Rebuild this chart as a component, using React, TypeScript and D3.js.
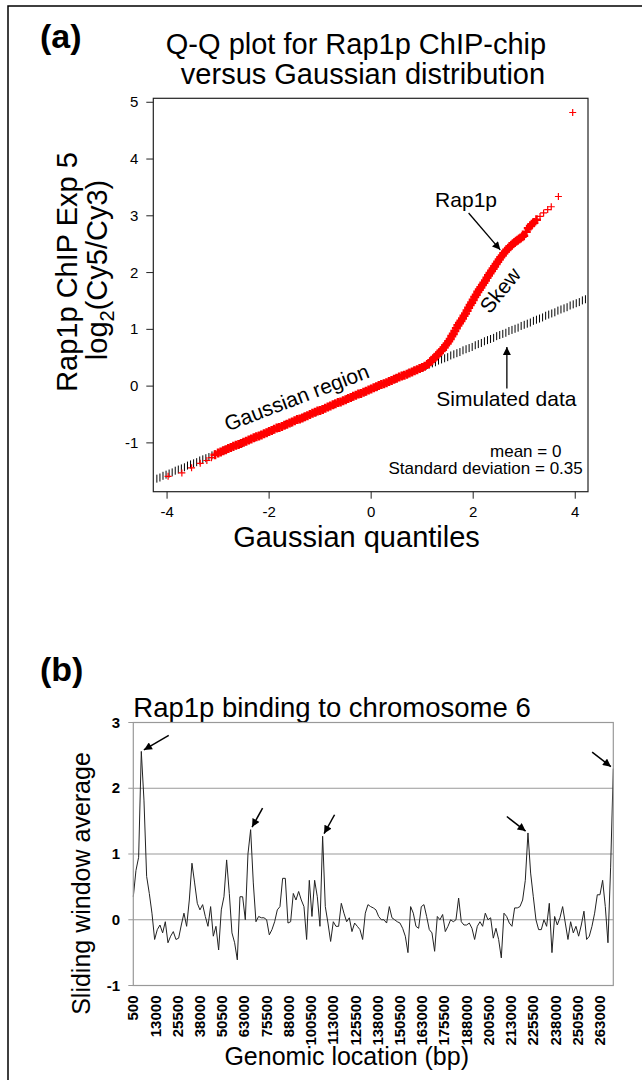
import React, { useRef, useEffect } from 'react';
import * as d3 from 'd3';

// ---------- Panel (a): Q-Q plot ----------
// Gaussian quantiles (x) and Rap1p log2 ratios (y) read off the red "+" points
const rap1pX = [
  -3.98, -3.71, -3.52, -3.35, -3.22, -3.13, -3.06,
  -3.00, -2.95, -2.90, -2.85, -2.80, -2.75, -2.70, -2.65, -2.60, -2.55,
  -2.50, -2.45, -2.40, -2.35, -2.30, -2.25, -2.20, -2.15, -2.10, -2.05,
  -2.00, -1.95, -1.90, -1.85, -1.80, -1.75, -1.70, -1.65, -1.60, -1.55,
  -1.50, -1.45, -1.40, -1.35, -1.30, -1.25, -1.20, -1.15, -1.10, -1.05,
  -1.00, -0.95, -0.90, -0.85, -0.80, -0.75, -0.70, -0.65, -0.60, -0.55,
  -0.50, -0.45, -0.40, -0.35, -0.30, -0.25, -0.20, -0.15, -0.10, -0.05,
  0.00, 0.05, 0.10, 0.15, 0.20, 0.25, 0.30, 0.35, 0.40, 0.45,
  0.50, 0.55, 0.60, 0.65, 0.70, 0.75, 0.80, 0.85, 0.90, 0.95,
  1.00, 1.05, 1.10,
  1.13, 1.16, 1.19, 1.22, 1.25, 1.28, 1.31, 1.34, 1.37, 1.40,
  1.43, 1.46, 1.49, 1.52, 1.55, 1.58, 1.61, 1.64, 1.67, 1.70,
  1.73, 1.76, 1.79, 1.82, 1.85, 1.88, 1.91, 1.94, 1.97, 2.00,
  2.03, 2.06, 2.09, 2.12, 2.15, 2.18, 2.21, 2.24, 2.27, 2.30,
  2.33, 2.36, 2.39, 2.42, 2.45, 2.48, 2.51, 2.54, 2.57, 2.60,
  2.63, 2.66, 2.69, 2.72, 2.75, 2.78, 2.81, 2.84, 2.87, 2.90,
  2.93, 2.96, 2.99,
  3.04, 3.08, 3.12, 3.15, 3.19, 3.24, 3.31, 3.38, 3.46, 3.53, 3.67, 3.95,
];
const rap1pY = [
  -1.59, -1.53, -1.44, -1.36, -1.31, -1.26, -1.21,
  -1.18, -1.16, -1.14, -1.12, -1.10, -1.08, -1.06, -1.04, -1.03, -1.01,
  -0.99, -0.97, -0.95, -0.93, -0.91, -0.89, -0.88, -0.86, -0.84, -0.82,
  -0.80, -0.78, -0.76, -0.74, -0.73, -0.71, -0.69, -0.67, -0.65, -0.63,
  -0.61, -0.59, -0.58, -0.56, -0.54, -0.52, -0.50, -0.48, -0.46, -0.44,
  -0.43, -0.41, -0.39, -0.37, -0.35, -0.33, -0.31, -0.29, -0.28, -0.26,
  -0.24, -0.22, -0.20, -0.18, -0.16, -0.14, -0.13, -0.11, -0.09, -0.07,
  -0.05, -0.03, -0.01, 0.01, 0.03, 0.04, 0.06, 0.08, 0.10, 0.12,
  0.14, 0.16, 0.18, 0.19, 0.21, 0.23, 0.25, 0.27, 0.29, 0.31,
  0.33, 0.35, 0.38,
  0.40, 0.43, 0.45, 0.48, 0.51, 0.53, 0.56, 0.59, 0.62, 0.64,
  0.68, 0.72, 0.75, 0.79, 0.83, 0.88, 0.92, 0.97, 1.02, 1.07,
  1.11, 1.15, 1.19, 1.24, 1.28, 1.33, 1.38, 1.43, 1.47, 1.52,
  1.57, 1.61, 1.66, 1.70, 1.74, 1.78, 1.82, 1.86, 1.91, 1.95,
  1.99, 2.03, 2.07, 2.11, 2.15, 2.19, 2.23, 2.27, 2.30, 2.34,
  2.37, 2.40, 2.43, 2.46, 2.48, 2.51, 2.53, 2.55, 2.57, 2.59,
  2.61, 2.63, 2.65,
  2.72, 2.78, 2.82, 2.85, 2.88, 2.93, 2.99, 3.05, 3.11, 3.16, 3.34, 4.82,
];

// simulated Gaussian data (black "|" points)
const simX = [
  -4.20, -4.14, -4.08, -4.02, -3.96, -3.90, -3.84, -3.78, -3.72, -3.66,
  -3.60, -3.54, -3.48, -3.42, -3.36, -3.30, -3.24, -3.18, -3.12, -3.06,
  -3.00, -2.94, -2.88, -2.82, -2.76, -2.70, -2.64, -2.58, -2.52, -2.46, -2.40,
  -2.28, -2.16, -2.04, -1.92, -1.80, -1.68, -1.56, -1.44, -1.32, -1.20,
  -1.08, -0.96, -0.84, -0.72, -0.60, -0.48, -0.36, -0.24, -0.12, 0.00,
  0.12, 0.24, 0.36, 0.48, 0.60, 0.72, 0.84, 0.96,
  1.02, 1.08, 1.14, 1.20, 1.26, 1.32, 1.38, 1.44, 1.50, 1.56,
  1.62, 1.68, 1.74, 1.80, 1.86, 1.92, 1.98, 2.04, 2.10, 2.16,
  2.22, 2.28, 2.34, 2.40, 2.46, 2.52, 2.58, 2.64, 2.70, 2.76,
  2.82, 2.88, 2.94, 3.00, 3.06, 3.12, 3.18, 3.24, 3.30, 3.36,
  3.42, 3.48, 3.54, 3.60, 3.66, 3.72, 3.78, 3.84, 3.90, 3.96,
  4.02, 4.08, 4.14, 4.20,
];
const simY = [
  -1.63, -1.61, -1.58, -1.56, -1.54, -1.52, -1.49, -1.47, -1.45, -1.43,
  -1.40, -1.38, -1.36, -1.34, -1.31, -1.29, -1.27, -1.25, -1.22, -1.20,
  -1.18, -1.16, -1.13, -1.11, -1.09, -1.07, -1.04, -1.02, -1.00, -0.97, -0.95,
  -0.91, -0.86, -0.82, -0.77, -0.73, -0.68, -0.64, -0.59, -0.55, -0.50,
  -0.46, -0.41, -0.37, -0.32, -0.28, -0.23, -0.19, -0.14, -0.10, -0.05,
  -0.01, 0.04, 0.09, 0.13, 0.18, 0.22, 0.27, 0.31,
  0.33, 0.36, 0.38, 0.40, 0.42, 0.45, 0.47, 0.49, 0.51, 0.54,
  0.56, 0.58, 0.60, 0.63, 0.65, 0.67, 0.69, 0.72, 0.74, 0.76,
  0.79, 0.81, 0.83, 0.85, 0.88, 0.90, 0.92, 0.94, 0.97, 0.99,
  1.01, 1.03, 1.06, 1.08, 1.10, 1.12, 1.15, 1.17, 1.19, 1.21,
  1.24, 1.26, 1.28, 1.30, 1.33, 1.35, 1.37, 1.39, 1.42, 1.44,
  1.46, 1.48, 1.51, 1.53,
];

const qqXTicks = [-4, -2, 0, 2, 4];
const qqYTicks = [-1, 0, 1, 2, 3, 4, 5];

// ---------- Panel (b): sliding window along chromosome 6 ----------
const windowStart = 500;
const windowStep = 1500;
const slidingAvg = [
  0.35, 0.75, 0.95, 2.56, 1.82, 0.66, 0.4, 0.1, -0.3, -0.15,
  -0.08, -0.2, -0.03, -0.35, -0.25, -0.18, -0.3, -0.28, -0.08, 0.1,
  -0.1, 0.3, 0.86, 0.56, 0.25, 0.15, 0.23, 0.05, -0.1, 0.2,
  -0.25, -0.1, -0.46, 0.15, 0.35, 0.91, 0.4, -0.2, -0.35, -0.61,
  0.35, 0.35, 0, 1.0, 1.37, 0.56, -0.03, 0.05, 0.03, 0.03,
  0, -0.23, -0.15, -0.03, 0.15, 0.2, 0.63, 0.63, -0.05, -0.03,
  0.4, 0.3, 0.43, 0.3, 0.2, -0.3, 0.6, 0.05, 0.6, 0.35,
  -0.1, 1.27, 0.2, -0.05, -0.33, -0.03, -0.1, -0.1, 0.25, 0.1,
  -0.03, 0.03, -0.18, -0.05, -0.1, -0.15, -0.3, 0.1, 0.23, 0.2,
  0.18, 0.15, 0.05, 0, 0, -0.05, 0.2, 0.03, 0, -0.03,
  -0.05, -0.13, -0.25, -0.5, 0.2, 0.1, -0.1, -0.13, 0.2, 0.23,
  0.05, -0.15, -0.2, -0.48, 0.05, 0, 0.08, -0.18, -0.1, 0,
  -0.03, 0, 0.33, -0.03, -0.08, -0.08, -0.05, -0.13, -0.3, -0.1,
  -0.03, -0.1, 0.1, 0, 0.03, -0.28, -0.13, -0.3, -0.58, 0.1,
  0.05, -0.05, -0.1, 0.18, 0.18, 0.2, 0.3, 0.6, 1.32, 0.71,
  0.35, 0, -0.15, -0.15, 0, -0.1, 0.25, -0.5, 0.05, -0.08,
  0.03, 0.2, -0.05, -0.3, -0.03, -0.2, -0.1, -0.25, -0.08, 0.13,
  -0.3, -0.25, -0.1, 0.1, 0.38, 0.38, 0.6, 0.2, -0.35, 0.8,
  2.3,
];
const genomicTicks = [
  '500', '13000', '25500', '38000', '50500', '63000', '75500', '88000',
  '100500', '113000', '125500', '138000', '150500', '163000', '175500',
  '188000', '200500', '213000', '225500', '238000', '250500', '263000',
];
const avgTicks = [-1, 0, 1, 2, 3];
const avgGrid = [0, 1, 2];
// peaks marked with arrows: window index and arrow tail offset (px)
const peakArrows = [
  { idx: 3, dx: 24, dy: -14 },
  { idx: 44, dx: 10, dy: -18 },
  { idx: 71, dx: 10, dy: -18 },
  { idx: 148, dx: -18, dy: -14 },
  { idx: 180, dx: -18, dy: -14 },
];

const W = 642;
const H = 1080;
const FONT = '"Liberation Sans", Arial, Helvetica, sans-serif';

function QQFigure() {
  const svgRef = useRef<SVGSVGElement | null>(null);

  useEffect(() => {
    const svg = d3.select(svgRef.current);
    svg.selectAll('*').remove();
    svg.attr('width', W).attr('height', H).style('font-family', FONT);

    const defs = svg.append('defs');
    defs.append('marker')
      .attr('id', 'head')
      .attr('viewBox', '0 0 10 10')
      .attr('refX', 10).attr('refY', 5)
      .attr('markerUnits', 'userSpaceOnUse')
      .attr('markerWidth', 9).attr('markerHeight', 8)
      .attr('orient', 'auto')
      .append('path').attr('d', 'M0,0 L10,5 L0,10 z').attr('fill', '#000');

    // outer frame (top and left edges)
    svg.append('path')
      .attr('d', `M8,${H} L8,6 L${W},6`)
      .attr('fill', 'none').attr('stroke', '#000').attr('stroke-width', 1.5);

    // ================= (a) =================
    const xA = d3.scaleLinear().domain([-4.27, 4.25]).range([153.3, 588]);
    const yA = d3.scaleLinear().domain([-1.86, 5.07]).range([491.7, 98.3]);
    const [ax0, ax1] = xA.range();
    const [ay0, ay1] = yA.range();

    svg.append('text').attr('x', 40).attr('y', 48)
      .style('font-size', '34px').style('font-weight', 'bold').text('(a)');

    svg.append('text').attr('x', 356).attr('y', 54).attr('text-anchor', 'middle')
      .style('font-size', '29px').text('Q-Q plot for Rap1p ChIP-chip');
    svg.append('text').attr('x', 363).attr('y', 84).attr('text-anchor', 'middle')
      .style('font-size', '29px').text('versus Gaussian distribution');

    defs.append('clipPath').attr('id', 'clipA')
      .append('rect').attr('x', ax0).attr('y', ay1)
      .attr('width', ax1 - ax0).attr('height', ay0 - ay1);

    const gA = svg.append('g').attr('clip-path', 'url(#clipA)');
    const simPts = simX.map((x, i) => [x, simY[i]]);
    gA.selectAll('.sim').data(simPts).enter().append('path')
      .attr('class', 'sim')
      .attr('d', d => `M${xA(d[0])},${yA(d[1]) - 4} L${xA(d[0])},${yA(d[1]) + 4}`)
      .attr('stroke', '#000').attr('stroke-width', 1);

    // red "+" points; points packed in the dense band get a heavier stroke
    const redPts = rap1pX.map((x, i) => [xA(x), yA(rap1pY[i])]);
    const nearest = redPts.map((p, i) => {
      let m = Infinity;
      [i - 1, i + 1].forEach(j => {
        if (j >= 0 && j < redPts.length) m = Math.min(m, Math.hypot(redPts[j][0] - p[0], redPts[j][1] - p[1]));
      });
      return m;
    });
    gA.selectAll('.rap').data(redPts).enter().append('path')
      .attr('class', 'rap')
      .attr('d', (d, i) => {
        const r = nearest[i] < 4.5 ? 4.5 : 3.5;
        return `M${d[0] - r},${d[1]} L${d[0] + r},${d[1]} M${d[0]},${d[1] - r} L${d[0]},${d[1] + r}`;
      })
      .attr('stroke', '#ff0000')
      .attr('stroke-width', (d, i) => (nearest[i] < 4.5 ? 2.6 : 1.2));

    svg.append('rect').attr('x', ax0).attr('y', ay1)
      .attr('width', ax1 - ax0).attr('height', ay0 - ay1)
      .attr('fill', 'none').attr('stroke', '#222').attr('stroke-width', 1.2);

    // axes
    const xAxisA = svg.append('g');
    qqXTicks.forEach(t => {
      xAxisA.append('line').attr('x1', xA(t)).attr('x2', xA(t))
        .attr('y1', ay0).attr('y2', ay0 + 7).attr('stroke', '#222');
      xAxisA.append('text').attr('x', xA(t)).attr('y', ay0 + 25)
        .attr('text-anchor', 'middle').style('font-size', '15px').text(t);
    });
    const yAxisA = svg.append('g');
    qqYTicks.forEach(t => {
      yAxisA.append('line').attr('x1', ax0 - 7).attr('x2', ax0)
        .attr('y1', yA(t)).attr('y2', yA(t)).attr('stroke', '#222');
      yAxisA.append('text').attr('x', ax0 - 15).attr('y', yA(t) + 5)
        .attr('text-anchor', 'end').style('font-size', '15px').text(t);
    });

    svg.append('text').attr('x', 356.5).attr('y', 547).attr('text-anchor', 'middle')
      .style('font-size', '29px').text('Gaussian quantiles');
    svg.append('text').attr('transform', 'translate(77,272) rotate(-90)')
      .attr('text-anchor', 'middle').style('font-size', '29px').text('Rap1p ChIP Exp 5');
    const yl2 = svg.append('text').attr('transform', 'translate(107,270) rotate(-90)')
      .attr('text-anchor', 'middle').style('font-size', '29px');
    yl2.append('tspan').text('log');
    yl2.append('tspan').attr('dy', 7).style('font-size', '20px').text('2');
    yl2.append('tspan').attr('dy', -7).text('(Cy5/Cy3)');

    // annotations
    svg.append('text').attr('x', xA(1.86)).attr('y', yA(3.16)).attr('text-anchor', 'middle')
      .style('font-size', '21px').text('Rap1p');
    svg.append('line')
      .attr('x1', xA(1.91)).attr('y1', yA(3.05)).attr('x2', xA(2.53)).attr('y2', yA(2.40))
      .attr('stroke', '#000').attr('stroke-width', 1.3).attr('marker-end', 'url(#head)');
    svg.append('text')
      .attr('transform', `translate(${xA(2.53)},${yA(1.69)}) rotate(-51)`)
      .attr('text-anchor', 'middle').attr('dy', '0.35em')
      .style('font-size', '21px').text('Skew');
    svg.append('text')
      .attr('transform', `translate(${xA(-1.41)},${yA(-0.32)}) rotate(-20.8)`)
      .attr('text-anchor', 'middle').style('font-size', '21px').text('Gaussian region');
    svg.append('text').attr('x', xA(2.65)).attr('y', yA(-0.35)).attr('text-anchor', 'middle')
      .style('font-size', '21px').text('Simulated data');
    svg.append('line')
      .attr('x1', xA(2.66)).attr('y1', yA(-0.04)).attr('x2', xA(2.66)).attr('y2', yA(0.69))
      .attr('stroke', '#000').attr('stroke-width', 1.3).attr('marker-end', 'url(#head)');
    svg.append('text').attr('x', xA(2.33)).attr('y', yA(-1.247))
      .style('font-size', '17px').text('mean = 0');
    svg.append('text').attr('x', xA(0.34)).attr('y', yA(-1.557))
      .style('font-size', '17px').text('Standard deviation = 0.35');

    // ================= (b) =================
    const positions = slidingAvg.map((_, i) => windowStart + i * windowStep);
    const xB = d3.scaleLinear().domain([500, 270500]).range([133.3, 613.3]);
    const yB = d3.scaleLinear().domain([-1, 3]).range([985.5, 722.5]);
    const [bx0, bx1] = xB.range();
    const [by0, by1] = yB.range();

    svg.append('text').attr('x', 40).attr('y', 681)
      .style('font-size', '34px').style('font-weight', 'bold').text('(b)');
    svg.append('text').attr('x', 332).attr('y', 717).attr('text-anchor', 'middle')
      .style('font-size', '27.5px').text('Rap1p binding to chromosome 6');

    avgGrid.forEach(t => {
      svg.append('line').attr('x1', bx0).attr('x2', bx1)
        .attr('y1', yB(t)).attr('y2', yB(t)).attr('stroke', '#999').attr('stroke-width', 1);
    });
    avgTicks.forEach(t => {
      svg.append('line').attr('x1', bx0 - 5).attr('x2', bx0)
        .attr('y1', yB(t)).attr('y2', yB(t)).attr('stroke', '#999');
      svg.append('text').attr('x', 120).attr('y', yB(t) + 5).attr('text-anchor', 'end')
        .style('font-size', '15px').style('font-weight', 'bold').text(t);
    });

    const line = d3.line<number>()
      .x((_, i) => xB(positions[i]))
      .y(d => yB(d));
    svg.append('path').datum(slidingAvg).attr('d', line)
      .attr('fill', 'none').attr('stroke', '#222').attr('stroke-width', 1)
      .attr('stroke-linejoin', 'miter');

    svg.append('rect').attr('x', bx0).attr('y', by1)
      .attr('width', bx1 - bx0).attr('height', by0 - by1)
      .attr('fill', 'none').attr('stroke', '#999').attr('stroke-width', 1.2);

    genomicTicks.forEach(lbl => {
      const px = xB(Number(lbl));
      svg.append('text')
        .attr('transform', `translate(${px + 5},${by0 + 10}) rotate(-90)`)
        .attr('text-anchor', 'end')
        .style('font-size', '15px').style('font-weight', 'bold').text(lbl);
    });

    peakArrows.forEach(a => {
      const tx = xB(positions[a.idx]);
      const ty = yB(slidingAvg[a.idx]);
      const len = Math.hypot(a.dx, a.dy);
      const ux = a.dx / len, uy = a.dy / len;
      svg.append('line')
        .attr('x1', tx + a.dx + ux * 4).attr('y1', ty + a.dy + uy * 4)
        .attr('x2', tx + ux * 3).attr('y2', ty + uy * 3)
        .attr('stroke', '#000').attr('stroke-width', 1.5).attr('marker-end', 'url(#head)');
    });

    svg.append('text').attr('transform', 'translate(90,883.5) rotate(-90)')
      .attr('text-anchor', 'middle').style('font-size', '25px').text('Sliding window average');
    svg.append('text').attr('x', 346.7).attr('y', 1065).attr('text-anchor', 'middle')
      .style('font-size', '25px').text('Genomic location (bp)');
  }, []);

  return <svg ref={svgRef}></svg>;
}

export default function App() {
  return (
    <div style={{ position: 'absolute', left: 0, top: 0, width: W, height: H, background: '#fff' }}>
      <QQFigure />
    </div>
  );
}
